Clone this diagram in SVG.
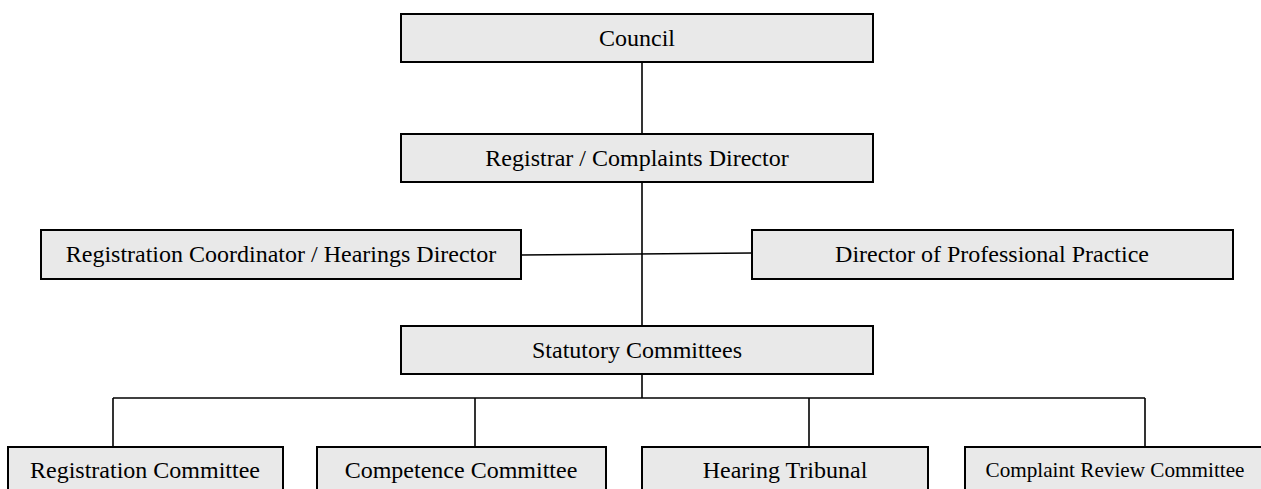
<svg xmlns="http://www.w3.org/2000/svg" width="1261" height="489" viewBox="0 0 1261 489">
<style>
.box{fill:#e9e9e9;stroke:#000;stroke-width:2}
.t{font-family:"Liberation Serif","Times New Roman",serif;font-size:24px;fill:#000;text-anchor:middle}
.s{font-size:21.2px}
.c{stroke:#000;stroke-width:1.6;fill:none}
</style>
<rect width="1261" height="489" fill="#fff"/>
<g id="connectors">
<line class="c" x1="642" y1="62" x2="642" y2="134"/>
<line class="c" x1="642" y1="182" x2="642" y2="326"/>
<line class="c" x1="521" y1="255" x2="752" y2="253"/>
<line class="c" x1="642" y1="374" x2="642" y2="398"/>
<line class="c" x1="113" y1="398" x2="1145" y2="398"/>
<line class="c" x1="113" y1="398" x2="113" y2="447"/>
<line class="c" x1="475" y1="398" x2="475" y2="447"/>
<line class="c" x1="809" y1="398" x2="809" y2="447"/>
<line class="c" x1="1145" y1="398" x2="1145" y2="447"/>
</g>
<g id="council"><rect class="box" x="401" y="14" width="472" height="48"/><text class="t" x="637" y="46">Council</text></g>
<g id="registrar"><rect class="box" x="401" y="134" width="472" height="48"/><text class="t" x="637" y="166">Registrar / Complaints Director</text></g>
<g id="coordinator"><rect class="box" x="41" y="230" width="480" height="49"/><text class="t" x="281" y="262">Registration Coordinator / Hearings Director</text></g>
<g id="director"><rect class="box" x="752" y="230" width="481" height="49"/><text class="t" x="992" y="262">Director of Professional Practice</text></g>
<g id="statutory"><rect class="box" x="401" y="326" width="472" height="48"/><text class="t" x="637" y="358">Statutory Committees</text></g>
<g id="registration"><rect class="box" x="8" y="447" width="275" height="50"/><text class="t" x="145" y="478">Registration Committee</text></g>
<g id="competence"><rect class="box" x="317" y="447" width="289" height="50"/><text class="t" x="461" y="478">Competence Committee</text></g>
<g id="hearing"><rect class="box" x="642" y="447" width="286" height="50"/><text class="t" x="785" y="478">Hearing Tribunal</text></g>
<g id="complaint"><rect class="box" x="965" y="447" width="300" height="50"/><text class="t s" x="1115" y="477">Complaint Review Committee</text></g>
</svg>
